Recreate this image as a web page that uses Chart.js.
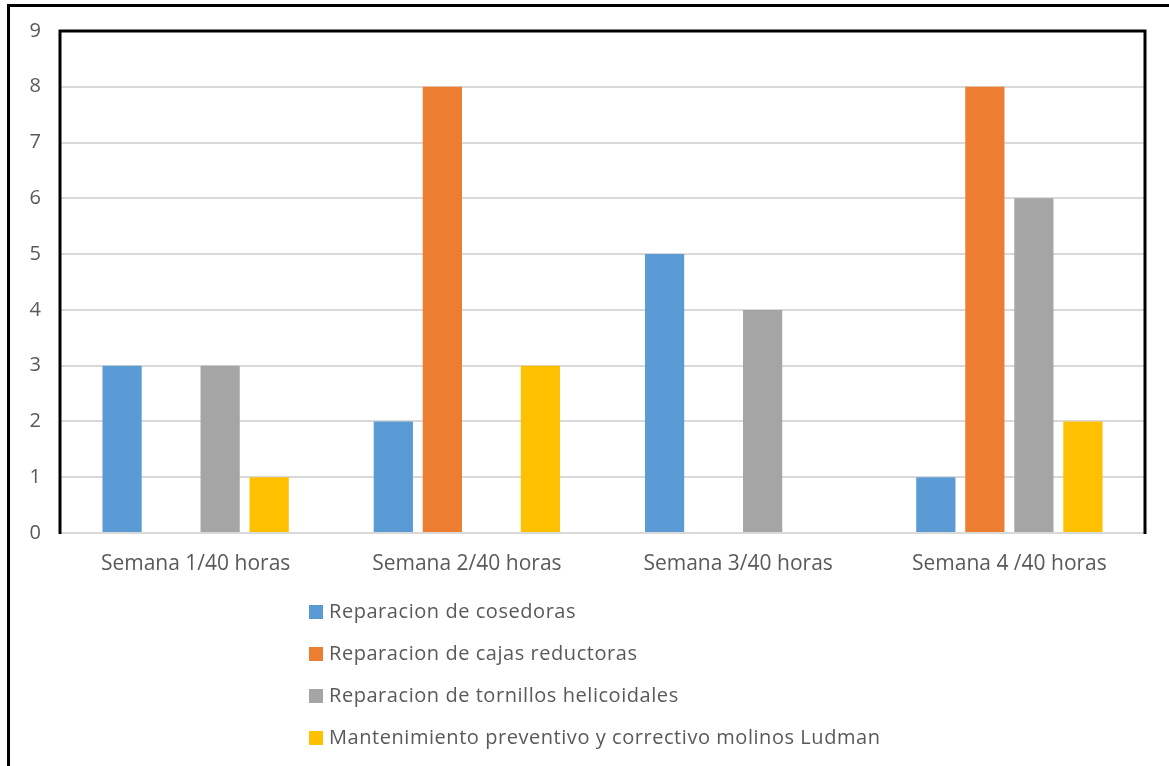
<!DOCTYPE html>
<html>
<head>
<meta charset="utf-8">
<script src="https://cdn.jsdelivr.net/npm/chart.js@4"></script>
<style>
  body { margin: 0; background: #fff; }
  #wrap { position: relative; width: 1169px; height: 766px; overflow: hidden; background: #fff; }
  #frame { position: absolute; left: 7px; top: 4px; width: 1200px; height: 800px;
           border-left: 3px solid #000; border-top: 3px solid #000; box-sizing: border-box; }
  #graph { position: absolute; left: 0; top: 0; }
  #leyenda { position: absolute; left: 309px; top: 597px; margin: 0; padding: 0; list-style: none;
             font-family: "Open Sans", sans-serif; font-size: 20px; color: #595959; letter-spacing: 0.55px; }
  #leyenda li { height: 42px; line-height: 28px; white-space: nowrap; }
  #leyenda span { display: inline-block; width: 14px; height: 14px; margin-right: 6px; vertical-align: -1px; }
</style>
</head>
<body>
<div id="wrap">
  <div id="frame"></div>
  <canvas id="graph" width="1169" height="766"></canvas>
  <ul id="leyenda"></ul>
</div>
<script>
const semanas = ["Semana 1/40 horas", "Semana 2/40 horas", "Semana 3/40 horas", "Semana 4 /40 horas"];
const series = ["Reparacion de cosedoras", "Reparacion de cajas reductoras",
                "Reparacion de tornillos helicoidales", "Mantenimiento preventivo y correctivo molinos Ludman"];
const cosedoras = [3, 2, 5, 1];
const cajas = [0, 8, 0, 8];
const tornillos = [3, 0, 4, 6];
const molinos = [1, 3, 0, 2];
const colores = ["#5B9BD5", "#ED7D31", "#A5A5A5", "#FFC000"];

const valores = [cosedoras, cajas, tornillos, molinos];

// black frame on left, top and right of the plot area
const marco = {
  id: 'marco',
  afterDatasetsDraw(chart) {
    const a = chart.chartArea;
    const ctx = chart.ctx;
    ctx.save();
    ctx.strokeStyle = '#000';
    ctx.lineWidth = 3;
    ctx.beginPath();
    ctx.moveTo(a.left, a.bottom + 1);
    ctx.lineTo(a.left, a.top);
    ctx.lineTo(a.right, a.top);
    ctx.lineTo(a.right, a.bottom + 1);
    ctx.stroke();
    ctx.restore();
  }
};

const graph = document.getElementById("graph");
const graphChart = new Chart(graph, {
  type: 'bar',
  data: {
    labels: semanas,
    datasets: series.map((s, i) => ({
      label: s,
      data: valores[i],
      backgroundColor: colores[i],
      borderWidth: 0
    }))
  },
  options: {
    responsive: false,
    animation: false,
    categoryPercentage: 0.723,
    barPercentage: 0.8,
    layout: { padding: { left: 20, top: 31, right: 24, bottom: 183 } },
    plugins: { legend: { display: false }, tooltip: { enabled: false } },
    scales: {
      x: {
        grid: { display: false },
        border: { display: false },
        ticks: { color: '#595959', font: { family: 'Open Sans', size: 21 }, padding: 10 },
        afterFit: s => { s.height = 50; }
      },
      y: {
        min: 0,
        max: 9,
        ticks: { stepSize: 1, color: '#595959', font: { family: 'Open Sans', size: 20 }, padding: 19 },
        grid: { color: '#d9d9d9', lineWidth: 2, drawTicks: false },
        border: { display: false },
        afterFit: s => { s.width = 40; }
      }
    }
  },
  plugins: [marco]
});

const ul = document.getElementById("leyenda");
series.forEach((s, i) => {
  const li = document.createElement('li');
  const sp = document.createElement('span');
  sp.style.background = colores[i];
  li.appendChild(sp);
  li.appendChild(document.createTextNode(s));
  ul.appendChild(li);
});
</script>
</body>
</html>
